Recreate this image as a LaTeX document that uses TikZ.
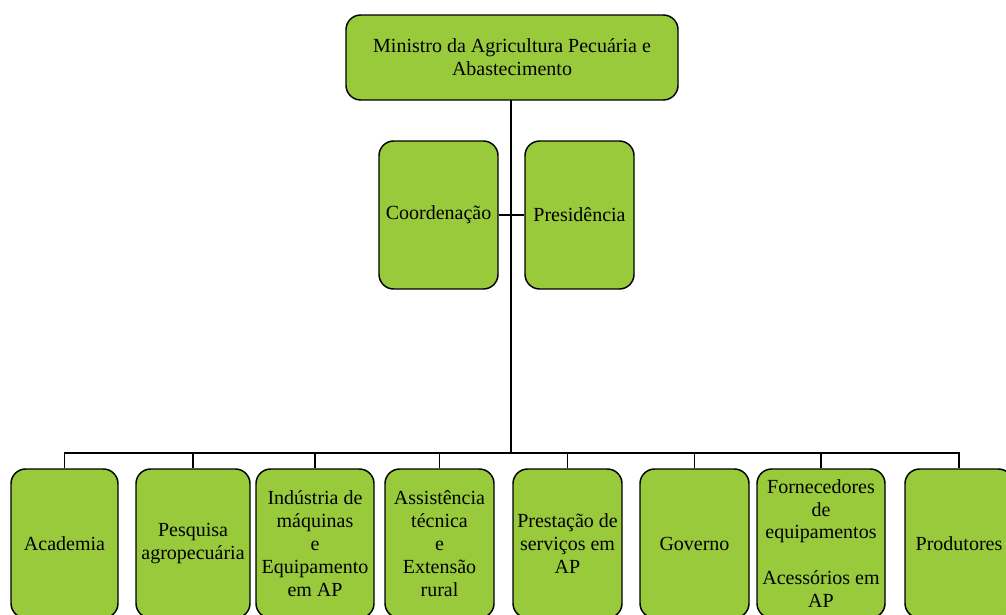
\documentclass[tikz,border=0pt]{standalone}
\usepackage{fontspec}
\setmainfont{Liberation Serif}
\usetikzlibrary{positioning,calc}
\definecolor{leaf}{RGB}{153,202,60}
\tikzset{orgbox/.style={draw, fill=leaf, rounded corners=11pt, line width=1.1pt, align=center, inner sep=1pt, font=\fontsize{15}{17.2}\selectfont},
  wire/.style={line width=1.1pt}}

\begin{document}
\begin{tikzpicture}[x=0.75pt,y=-0.75pt]
			\path[use as bounding box, clip] (0,0) rectangle (1006,614);
			% top
			\node[orgbox, minimum width=249pt, minimum height=63.75pt] (min) at (512,57.5) {Ministro da Agricultura Pecuária e\\Abastecimento};
			\node[orgbox, minimum width=89.25pt, minimum height=111pt] (coord) at (438.5,215) {Coordenação};
			\node[orgbox, minimum width=81.75pt, minimum height=111pt] (pres) at (579.5,215) {Presidência};
			\coordinate (bus) at (511,453);
			
			% bottom row
			\foreach \x/\w/\txt [count=\i] in {64.5/80.25/{Academia},
				193/85.5/{Pesquisa\\agropecuária},
				315/88.5/{Indústria de\\máquinas\\e\\Equipamento\\em AP},
				439.5/81.75/{Assistência\\técnica\\e\\Extensão\\rural},
				567.5/81.75/{Prestação de\\serviços em\\AP},
				694.5/81.75/{Governo},
				821/96/{Fornecedores\\de\\equipamentos\\[17.2pt]Acessórios em\\AP},
				959/81/{Produtores}}
			\node[orgbox, minimum width=\w pt, minimum height=111.75pt] (b\i) at (\x,543.5) {\txt};
			
			\begin{scope}[wire]
			\draw (511,100) -- (bus);
			\draw (coord.east) -- (pres.west);
			\foreach \i in {1,...,8}
			\draw (bus) -| (b\i.north);
			\end{scope}
\end{tikzpicture}
\end{document}
